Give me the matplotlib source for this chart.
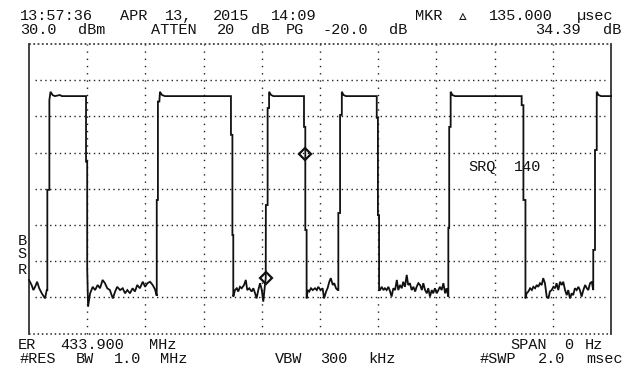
import matplotlib
matplotlib.use("Agg")
import matplotlib.pyplot as plt

# ---------------- data (time in microseconds, level in dBm) ----------------
sweep_us = [0, 2000]
ref_level_dbm = [-50, 30]
time_div_us = [200, 400, 600, 800, 1000, 1200, 1400, 1600, 1800]
level_div_dbm = [-40, -30, -20, -10, 0, 10, 20]

noise_a_us = [0, 9, 15, 21, 28, 35, 44, 55, 61]
noise_a_dbm = [-35.2, -36.6, -38.0, -37.1, -35.7, -37.5, -38.9, -40.3, -38.0]

pulse1_us = [63, 63, 70, 70, 74, 81, 89, 106, 113, 196, 196, 200, 200, 203]
pulse1_dbm = [-38.0, -10.3, -10.3, 14.5, 16.8, 15.9, 15.6, 15.9, 15.6, 15.6, -2.5, -2.5, -31.9, -42.6]

noise_b_us = [210, 219, 227, 236, 244, 253, 261, 269, 278, 288, 296, 303, 313, 322,
              330, 338, 347, 356, 364, 372, 381, 391, 399, 407, 416, 425, 433, 439]
noise_b_dbm = [-38.9, -37.1, -38.0, -36.6, -37.5, -35.2, -36.1, -37.5, -38.0, -40.3, -38.4, -37.1, -38.0, -37.5,
               -38.9, -38.0, -38.9, -37.5, -38.4, -36.6, -37.5, -35.7, -37.1, -36.1, -35.7, -36.6, -37.8, -39.6]

pulse2_us = [439, 443, 443, 448, 450, 457, 467, 694, 694, 699, 699, 702, 702]
pulse2_dbm = [-13.1, -13.1, 14.1, 14.1, 16.8, 15.9, 15.6, 15.6, 4.9, 4.9, -22.8, -22.8, -39.8]

noise_c_us = [708, 714, 719, 725, 731, 739, 745, 750, 757, 765, 771, 777, 782, 788, 794, 800, 805, 809, 812]
noise_c_dbm = [-38.0, -37.5, -38.4, -37.1, -37.5, -36.6, -35.2, -38.0, -37.5, -38.4, -37.5, -38.9, -40.3,
               -38.0, -36.1, -38.0, -41.2, -38.0, -35.7]

pulse3_us = [813.5, 814, 820, 820, 825, 825, 832, 840, 945, 945, 949.5, 949.5, 954, 954]
pulse3_dbm = [-34.8, -14.5, -14.5, 12.3, 12.3, 16.8, 15.9, 15.6, 15.6, 7.1, 7.1, -21.4, -21.4, -40.3]

noise_d_us = [958, 963, 969, 975, 983, 989, 994, 1002, 1009, 1014, 1021, 1026, 1032, 1037, 1044, 1049, 1055, 1061]
noise_d_dbm = [-38.0, -38.4, -37.5, -38.0, -37.5, -38.0, -37.1, -38.0, -37.5, -40.3, -38.4, -37.5, -35.7,
               -34.7, -36.6, -36.1, -37.5, -38.0]

pulse4_us = [1063, 1063, 1069, 1069, 1075, 1075, 1081, 1089, 1195, 1195, 1199, 1199, 1203, 1203]
pulse4_dbm = [-38.0, -16.7, -16.7, 10.4, 10.4, 16.8, 15.9, 15.6, 15.6, 9.6, 9.6, -17.3, -17.3, -38.0]

noise_e_us = [1206, 1212, 1218, 1223, 1229, 1235, 1241, 1246, 1252, 1258, 1264, 1269, 1275, 1281,
              1286, 1292, 1298, 1303, 1309, 1315, 1321, 1327, 1332, 1338, 1344, 1350, 1355, 1361,
              1367, 1372, 1378, 1384, 1389, 1395, 1401, 1407, 1412, 1418, 1424, 1430, 1435, 1441]
noise_e_dbm = [-38.0, -37.1, -38.0, -37.5, -38.0, -37.1, -38.4, -39.8, -37.5, -38.0, -35.2, -38.0, -36.6, -37.5,
               -35.7, -37.1, -33.8, -36.6, -36.1, -38.0, -37.1, -38.4, -37.1, -36.1, -36.6, -38.0, -36.1, -38.0,
               -38.9, -37.5, -39.8, -38.0, -38.9, -37.5, -38.9, -38.0, -37.1, -38.0, -36.1, -38.9, -37.5, -39.8]

pulse5_us = [1441, 1444, 1444, 1449, 1449, 1455, 1464, 1693, 1693, 1699, 1699, 1706, 1706]
pulse5_dbm = [-20.8, -20.8, 7.1, 7.1, 16.8, 15.9, 15.6, 15.6, 13.1, 13.1, -13.1, -13.1, -40.3]

noise_f_us = [1710, 1716, 1722, 1728, 1733, 1739, 1745, 1750, 1756, 1762, 1767, 1773, 1779, 1785,
              1790, 1796, 1802, 1808, 1813, 1819, 1825, 1831, 1836, 1842, 1848, 1853, 1859, 1865,
              1870, 1876, 1882, 1888, 1893, 1899, 1905, 1911, 1917, 1922, 1928, 1934, 1939]
noise_f_dbm = [-38.9, -38.4, -37.5, -38.0, -37.1, -37.5, -36.6, -37.1, -36.1, -36.6, -34.7, -36.1, -39.8, -40.3,
               -38.4, -38.0, -37.1, -37.5, -36.1, -38.0, -35.7, -36.6, -35.7, -38.0, -39.4, -38.0, -40.3, -38.9,
               -39.4, -37.5, -38.0, -37.1, -38.0, -39.8, -38.0, -36.6, -37.5, -38.0, -36.1, -35.7, -38.0]

pulse6_us = [1939, 1945, 1945, 1951, 1951, 1957, 1966, 2000]
pulse6_dbm = [-26.9, -26.9, 0.7, 0.7, 16.8, 15.9, 15.6, 15.6]

marker_us = [813.5, 949.0]
marker_dbm = [-34.8, -0.4]

# ---------------- annotation text ----------------
header_1 = ["13:57:36", "APR", "13,", "2015", "14:09", "MKR", "\u25b5", "135.000", "\u00b5sec"]
header_2 = ["30.0", "dBm", "ATTEN", "20", "dB", "PG", "-20.0", "dB", "34.39", "dB"]
footer_1 = ["ER", "433.900", "MHz", "SPAN", "0", "Hz"]
footer_2 = ["#RES", "BW", "1.0", "MHz", "VBW", "300", "kHz", "#SWP", "2.0", "msec"]
side_labels = ["B", "S", "R"]
srq_words = ["SRQ", "140"]

# ---------------- figure ----------------
W, H = 636, 371
fig = plt.figure(figsize=(W / 100, H / 100), dpi=100)
fig.patch.set_facecolor("white")
ax = fig.add_axes([29 / W, 1 - 333.5 / H, 582 / W, 289.5 / H])
ax.set_xlim(*sweep_us)
ax.set_ylim(*ref_level_dbm)
ax.axis("off")

dot_col = "#222222"
for t in time_div_us:
    ax.axvline(t, color=dot_col, lw=1.0, linestyle=(0, (1, 4.2)), clip_on=False)
for lv in level_div_dbm:
    ax.axhline(lv, xmin=0.01, xmax=0.99, color=dot_col, lw=1.0, linestyle=(0, (1, 2.5)), clip_on=False)
ax.axhline(ref_level_dbm[1], color=dot_col, lw=1.1, linestyle=(0, (1.2, 1.6)), clip_on=False)
ax.axhline(ref_level_dbm[0], color=dot_col, lw=1.1, linestyle=(0, (1.0, 1.8)), clip_on=False)
for t in sweep_us:
    ax.axvline(t, color="#333333", lw=1.3, clip_on=False)

trace_us = (noise_a_us + pulse1_us + noise_b_us + pulse2_us + noise_c_us + pulse3_us +
            noise_d_us + pulse4_us + noise_e_us + pulse5_us + noise_f_us + pulse6_us)
trace_dbm = (noise_a_dbm + pulse1_dbm + noise_b_dbm + pulse2_dbm + noise_c_dbm + pulse3_dbm +
             noise_d_dbm + pulse4_dbm + noise_e_dbm + pulse5_dbm + noise_f_dbm + pulse6_dbm)
ax.plot(trace_us, trace_dbm, color="#111111", lw=1.3, solid_joinstyle="miter", clip_on=False, zorder=3)
ax.plot(marker_us, marker_dbm, linestyle="none", marker="D", ms=6, mfc="none",
        mec="#111111", mew=1.6, clip_on=False, zorder=4)

FAM = ["Liberation Mono", "DejaVu Sans Mono", "DejaVu Sans"]
FS = 11
PITCH = 11.6


def put_words(words, lefts, yc, size=FS):
    for w, xl in zip(words, lefts):
        cx = xl + ((len(w) - 1) * PITCH + 8) / 2
        fig.text(cx / W, 1 - yc / H, w, ha="center", va="center", fontsize=size,
                 family=FAM, color="#111111")


put_words(header_1[:6], [11.7, 118, 163, 210, 267, 413], 16)
put_words(header_1[6:7], [459], 17, size=14)
put_words(header_1[7:], [482, 574], 16)
put_words(header_2, [17.3, 76, 146.7, 216.7, 250, 285, 317.7, 388.7, 531, 602.7], 29.5)
put_words(footer_1, [16.7, 53.3, 146.7, 507.7, 564.3, 584.3], 345)
put_words(footer_2, [16.7, 75, 112, 158.3, 273.3, 317.7, 366, 476, 536, 582.7], 359)
put_words(side_labels[:1], [18], 241)
put_words(side_labels[1:2], [18], 254)
put_words(side_labels[2:], [18], 270)
put_words(srq_words, [466, 511.7], 167)

fig.savefig("out.png", dpi=100, facecolor="white")
